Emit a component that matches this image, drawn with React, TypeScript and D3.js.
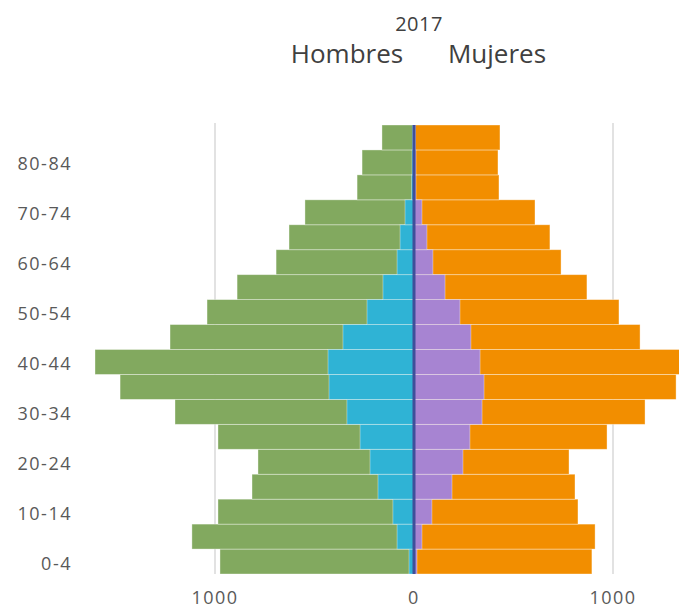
import { scaleLinear, scaleBand } from "d3";

// age groups, bottom to top
const ageGroups = [
  "0-4", "5-9", "10-14", "15-19", "20-24", "25-29", "30-34", "35-39", "40-44",
  "45-49", "50-54", "55-59", "60-64", "65-69", "70-74", "75-79", "80-84", "85+",
];
const menTotal = [975, 1116, 985, 814, 784, 985, 1201, 1477, 1603, 1226, 1040, 889, 693, 628, 548, 286, 261, 161];
const menSub = [25, 85, 106, 181, 221, 271, 337, 427, 432, 357, 236, 156, 85, 70, 45, 12, 10, 8];
const womenTotal = [894, 910, 824, 809, 779, 970, 1161, 1317, 1340, 1136, 1030, 869, 739, 683, 608, 427, 422, 432];
const womenSub = [15, 40, 90, 191, 246, 281, 342, 352, 332, 286, 231, 156, 95, 65, 40, 10, 10, 8];
const xTicks = [-1000, 0, 1000];

const W = 679;
const H = 609;
const colors = {
  men: "#82a95f",
  menSub: "#2fb3d5",
  women: "#f28e00",
  womenSub: "#a784d2",
  axis: "#3f4f9a",
};

export default function App() {
  const x = scaleLinear().domain([-1000, 1000]).range([215, 613]);
  const y = scaleBand()
    .domain([...ageGroups].reverse())
    .range([125, 574])
    .padding(0);
  const bh = y.bandwidth();
  const font = "'Open Sans', 'Noto Sans', sans-serif";

  const bar = (vals: number[], side: number, color: string, key: string) =>
    vals.map((v, i) => {
      const a = x(0);
      const b = x(side * v);
      return (
        <rect
          key={key + i}
          x={Math.min(a, b)}
          y={y(ageGroups[i])}
          width={Math.abs(b - a)}
          height={bh}
          fill={color}
          stroke="#ffffff"
          strokeOpacity={0.45}
          strokeWidth={0.8}
        />
      );
    });

  return (
    <svg
      width={W}
      height={H}
      style={{ position: "absolute", left: 0, top: 0, background: "#fff" }}
      fontFamily={font}
    >
      <text x={419} y={31} textAnchor="middle" fontSize={20} letterSpacing={0.5} fill="#404040">2017</text>
      <text x={347} y={63} textAnchor="middle" fontSize={26} fill="#404040">Hombres</text>
      <text x={497} y={63} textAnchor="middle" fontSize={26} fill="#404040">Mujeres</text>

      {xTicks.filter((t) => t !== 0).map((t) => (
        <line key={"g" + t} x1={x(t)} x2={x(t)} y1={123} y2={574} stroke="#d9d9d9" strokeWidth={1.5} />
      ))}

      {bar(menTotal, -1, colors.men, "mt")}
      {bar(womenTotal, 1, colors.women, "wt")}
      {bar(menSub, -1, colors.menSub, "ms")}
      {bar(womenSub, 1, colors.womenSub, "ws")}

      <line x1={x(0)} x2={x(0)} y1={125} y2={574} stroke={colors.axis} strokeWidth={3} />

      {ageGroups.map((g, i) =>
        i % 2 === 0 ? (
          <text
            key={"l" + g}
            x={72}
            y={(y(g) ?? 0) + bh / 2 + 8}
            textAnchor="end"
            fontSize={18}
            letterSpacing={1.5}
            fill="#595959"
          >
            {g}
          </text>
        ) : null
      )}

      {xTicks.map((t) => (
        <text key={"t" + t} x={x(t)} y={604} textAnchor="middle" fontSize={18} letterSpacing={1.5} fill="#595959">
          {Math.abs(t)}
        </text>
      ))}
    </svg>
  );
}
